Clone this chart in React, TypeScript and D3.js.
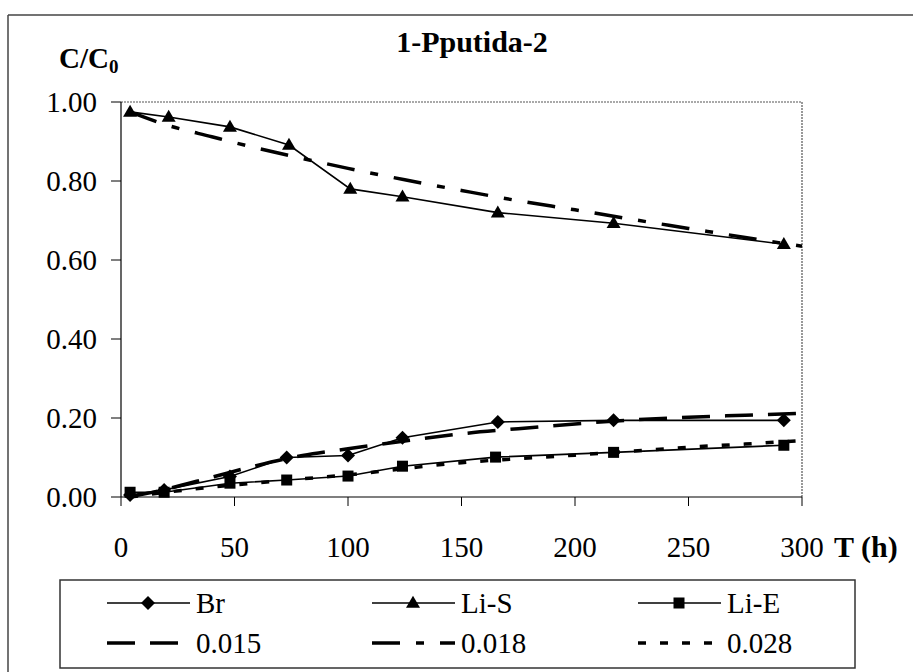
import React from "react";
import * as d3 from "d3";

const timeBr = [4, 19, 48, 73, 100, 124, 166, 217, 292];
const valBr = [0.005, 0.018, 0.052, 0.1, 0.105, 0.15, 0.19, 0.194, 0.194];
const timeLiS = [4, 21, 48, 74, 101, 124, 166, 217, 292];
const valLiS = [0.975, 0.962, 0.937, 0.891, 0.78, 0.76, 0.72, 0.693, 0.64];
const timeLiE = [4, 19, 48, 73, 100, 124, 165, 217, 292];
const valLiE = [0.012, 0.012, 0.035, 0.043, 0.053, 0.078, 0.101, 0.113, 0.131];

const modelTime = [4, 20, 40, 60, 80, 100, 125, 150, 175, 200, 225, 250, 275, 300];
const model015 = [0.0, 0.02, 0.05, 0.08, 0.105, 0.122, 0.142, 0.16, 0.173, 0.185, 0.195, 0.202, 0.207, 0.212];
const model018 = [0.975, 0.942, 0.912, 0.883, 0.857, 0.832, 0.803, 0.776, 0.75, 0.727, 0.703, 0.68, 0.657, 0.635];
const model028 = [0.0, 0.012, 0.025, 0.036, 0.046, 0.056, 0.072, 0.087, 0.097, 0.106, 0.116, 0.126, 0.134, 0.143];

const xTicks = [0, 50, 100, 150, 200, 250, 300];
const yTicks = [0, 0.2, 0.4, 0.6, 0.8, 1.0];

const FONT = "'Liberation Serif', 'Times New Roman', serif";

const L = 121, R = 802, T = 102, B = 497;
const x = d3.scaleLinear().domain([0, 300]).range([L, R]);
const y = d3.scaleLinear().domain([0, 1]).range([B, T]);

const zip = (xs: number[], ys: number[]) => xs.map((v, i) => [v, ys[i]] as [number, number]);

const lineStraight = d3.line<[number, number]>().x(d => x(d[0])).y(d => y(d[1]));
const lineSmooth = d3
  .line<[number, number]>()
  .x(d => x(d[0]))
  .y(d => y(d[1]))
  .curve(d3.curveMonotoneX);

const DASH015 = "28,15";
const DASH018 = "28,16,8,16";
const DASH028 = "8,14";

function Marker({ kind, cx, cy }: { kind: string; cx: number; cy: number }) {
  if (kind === "diamond") {
    const s = 7;
    return <path d={`M${cx},${cy - s}L${cx + s},${cy}L${cx},${cy + s}L${cx - s},${cy}Z`} fill="#000" />;
  }
  if (kind === "triangle") {
    const w = 7, h = 12;
    return <path d={`M${cx},${cy - h * 0.6}L${cx + w},${cy + h * 0.4}L${cx - w},${cy + h * 0.4}Z`} fill="#000" />;
  }
  const s = 5.5;
  return <rect x={cx - s} y={cy - s} width={2 * s} height={2 * s} fill="#000" />;
}

export default function App() {
  const series = [
    { name: "Br", xs: timeBr, ys: valBr, kind: "diamond" },
    { name: "Li-S", xs: timeLiS, ys: valLiS, kind: "triangle" },
    { name: "Li-E", xs: timeLiE, ys: valLiE, kind: "square" },
  ];
  const models = [
    { name: "0.015", ys: model015, dash: DASH015 },
    { name: "0.018", ys: model018, dash: DASH018 },
    { name: "0.028", ys: model028, dash: DASH028 },
  ];
  const legendCols = [107, 372, 638];
  const legendRows = [603, 643];

  return (
    <svg width={913} height={672} style={{ display: "block", position: "absolute", left: 0, top: 0 }}>
      <rect x={0} y={0} width={913} height={672} fill="#fff" />
      {/* outer frame */}
      <line x1={8} y1={15} x2={913} y2={15} stroke="#444" strokeWidth={1.5} />
      <line x1={8} y1={15} x2={8} y2={672} stroke="#444" strokeWidth={1.5} />

      {/* plot border (top/right dotted) */}
      <line x1={L} y1={T} x2={R} y2={T} stroke="#555" strokeWidth={1.2} strokeDasharray="2,1" />
      <line x1={R} y1={T} x2={R} y2={B} stroke="#555" strokeWidth={1.2} strokeDasharray="2,1" />

      {/* axes */}
      <line x1={L} y1={T} x2={L} y2={B} stroke="#000" strokeWidth={1.2} />
      <line x1={L} y1={B} x2={R} y2={B} stroke="#000" strokeWidth={1.2} />
      {yTicks.map(t => (
        <g key={"y" + t}>
          <line x1={L - 10} x2={L} y1={y(t)} y2={y(t)} stroke="#000" strokeWidth={1} />
          <text x={97} y={y(t) + 10} textAnchor="end" fontFamily={FONT} fontSize={29}>
            {t.toFixed(2)}
          </text>
        </g>
      ))}
      {xTicks.map(t => (
        <g key={"x" + t}>
          <line x1={x(t)} x2={x(t)} y1={B} y2={B + 9} stroke="#000" strokeWidth={1} />
          <text x={x(t)} y={557} textAnchor="middle" fontFamily={FONT} fontSize={29}>
            {t}
          </text>
        </g>
      ))}

      {/* titles */}
      <text x={472} y={52} textAnchor="middle" fontFamily={FONT} fontSize={30} fontWeight="bold">
        1-Pputida-2
      </text>
      <text x={59} y={68} fontFamily={FONT} fontSize={29} fontWeight="bold">
        C/C<tspan fontSize={19} dy={5}>0</tspan>
      </text>
      <text x={834} y={557} fontFamily={FONT} fontSize={30} fontWeight="bold">
        T (h)
      </text>

      {/* model curves */}
      {models.map(m => (
        <path
          key={m.name}
          d={lineSmooth(zip(modelTime, m.ys)) || ""}
          fill="none"
          stroke="#000"
          strokeWidth={3.5}
          strokeDasharray={m.dash}
        />
      ))}

      {/* data series */}
      {series.map(s => (
        <g key={s.name}>
          <path d={lineStraight(zip(s.xs, s.ys)) || ""} fill="none" stroke="#000" strokeWidth={1.6} />
          {s.xs.map((v, i) => (
            <Marker key={i} kind={s.kind} cx={x(v)} cy={y(s.ys[i])} />
          ))}
        </g>
      ))}

      {/* legend */}
      <rect x={60} y={580} width={795} height={88} fill="none" stroke="#333" strokeWidth={1.5} />
      {series.map((s, i) => (
        <g key={"ls" + s.name}>
          <line x1={legendCols[i]} x2={legendCols[i] + 83} y1={legendRows[0]} y2={legendRows[0]} stroke="#000" strokeWidth={1.6} />
          <Marker kind={s.kind} cx={legendCols[i] + 41} cy={legendRows[0]} />
          <text x={legendCols[i] + 89} y={legendRows[0] + 10} fontFamily={FONT} fontSize={29}>
            {s.name}
          </text>
        </g>
      ))}
      {models.map((m, i) => (
        <g key={"lm" + m.name}>
          <line x1={legendCols[i]} x2={legendCols[i] + 83} y1={legendRows[1]} y2={legendRows[1]} stroke="#000" strokeWidth={3.5} strokeDasharray={m.dash} />
          <text x={legendCols[i] + 89} y={legendRows[1] + 10} fontFamily={FONT} fontSize={29}>
            {m.name}
          </text>
        </g>
      ))}
    </svg>
  );
}
